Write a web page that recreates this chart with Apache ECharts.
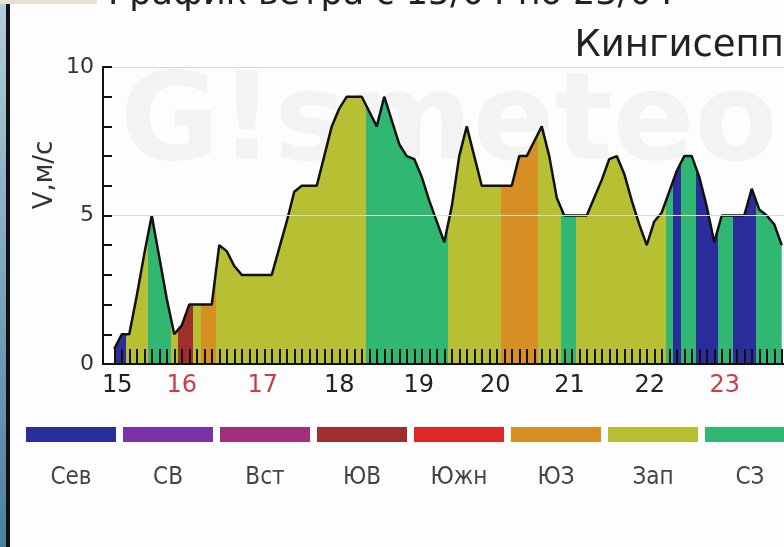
<!DOCTYPE html>
<html>
<head>
<meta charset="utf-8">
<script src="https://cdn.jsdelivr.net/npm/echarts@6/dist/echarts.min.js"></script>
<style>
  html, body { margin: 0; padding: 0; background: #fdfdfd; }
  #main { width: 784px; height: 547px; }
</style>
</head>
<body>
<div id="main"></div>
<script>
// скорость ветра, м/с - одна точка на каждое деление оси
var speed = [
  0.5, 1, 1, 2.3, 3.7, 5, 3.6, 2.2, 1, 1.3,
  2, 2, 2, 2, 4, 3.8, 3.3, 3, 3, 3,
  3, 3, 3.9, 4.8, 5.8, 6, 6, 6, 7, 8,
  8.6, 9, 9, 9, 8.5, 8, 9, 8.2, 7.4, 7,
  6.9, 6.3, 5.5, 4.8, 4.1, 5.3, 7, 8, 7, 6,
  6, 6, 6, 6, 7, 7, 7.5, 8, 7, 5.6,
  5, 5, 5, 5, 5.6, 6.2, 6.9, 7, 6.4, 5.5,
  4.7, 4, 4.8, 5.1, 5.8, 6.5, 7, 7, 6.3, 5.3,
  4.1, 5, 5, 5, 5, 5.9, 5.2, 5, 4.7, 4
]
// направление ветра для каждой точки (индекс в dirNames)
var dirs = [
  0, 0, 6, 6, 6, 7, 7, 7, 6, 3,
  3, 6, 5, 5, 6, 6, 6, 6, 6, 6,
  6, 6, 6, 6, 6, 6, 6, 6, 6, 6,
  6, 6, 6, 6, 7, 7, 7, 7, 7, 7,
  7, 7, 7, 7, 7, 6, 6, 6, 6, 6,
  6, 6, 5, 5, 5, 5, 5, 6, 6, 6,
  7, 7, 6, 6, 6, 6, 6, 6, 6, 6,
  6, 6, 6, 6, 7, 0, 7, 7, 0, 0,
  0, 7, 7, 0, 0, 0, 7, 7, 7, 7
]
var dirNames = ['Сев', 'СВ', 'Вст', 'ЮВ', 'Южн', 'ЮЗ', 'Зап', 'СЗ']
var dirColors = ['#2b2e9a', '#7a33a6', '#a22f7c', '#9e2f2c', '#de2727', '#d68f22', '#b6c032', '#30b872']
// подписи дней на оси x
var dayPos = [0.4, 9, 19.8, 30, 40.6, 50.8, 60.7, 71.4, 81.4]
var dayLabels = ['15', '16', '17', '18', '19', '20', '21', '22', '23']
var dayRed = ['16', '17', '23'] // выходные - красным

var myChart = echarts.init(document.getElementById('main'))
var option

var seriesData = speed.map(function (v, i) { return [i, v] })
var tickValues = speed.map(function (v, i) { return i })

// цветные полосы по направлению
var runs = []
dirs.forEach(function (d, i) {
  var last = runs[runs.length - 1]
  if (last && last.dir === d) {
    last.end = i
  } else {
    runs.push({ dir: d, start: i, end: i })
  }
})
var pieces = runs.map(function (r, k) {
  return {
    gte: k === 0 ? -10 : r.start - 0.5,
    lt: k === runs.length - 1 ? 1000 : r.end + 0.5,
    color: dirColors[r.dir]
  }
})

var font = 'DejaVu Sans'

// легенда снизу + оформление
var graphics = [
  { type: 'rect', z: -10, shape: { x: 0, y: 0, width: 6, height: 547 },
    style: { fill: new echarts.graphic.LinearGradient(0, 0, 0, 1, [
      { offset: 0, color: '#b4cedc' }, { offset: 0.5, color: '#7fa6be' }, { offset: 1, color: '#4b7fa0' }]) } },
  { type: 'rect', z: -10, shape: { x: 0, y: 0, width: 97, height: 4 }, style: { fill: '#e8e1d5' } },
  { type: 'rect', z: -10, shape: { x: 6, y: 4, width: 4, height: 543 }, style: { fill: '#111' } },
  { type: 'text', z: -10, x: 120, y: 128,
    style: { text: 'G!smeteo', font: 'bold 121px ' + font, fill: '#f3f3f3', align: 'left', verticalAlign: 'middle', textAlign: 'left', textVerticalAlign: 'middle' } },
  { type: 'text', x: 108, y: -5,
    style: { text: 'График ветра с 15/04 по 23/04', font: '35px ' + font, fill: '#222', align: 'left', verticalAlign: 'middle', textAlign: 'left', textVerticalAlign: 'middle' } },
  { type: 'text', x: 784, y: 46,
    style: { text: 'Кингисепп', font: '37px ' + font, fill: '#222', align: 'right', verticalAlign: 'middle', textAlign: 'right', textVerticalAlign: 'middle' } },
  { type: 'text', x: 45, y: 175, rotation: Math.PI / 2,
    style: { text: 'V,м/с', font: '26px ' + font, fill: '#333', align: 'center', verticalAlign: 'middle', textAlign: 'center', textVerticalAlign: 'middle' } }
]
dirNames.forEach(function (name, k) {
  graphics.push({ type: 'rect', shape: { x: 26 + k * 97, y: 427, width: 90, height: 15 }, style: { fill: dirColors[k] } })
  graphics.push({ type: 'text', x: 71 + k * 97, y: 478,
    style: { text: name, font: '24px DejaVu Sans Condensed', fill: '#444', align: 'center', verticalAlign: 'middle', textAlign: 'center', textVerticalAlign: 'middle' } })
})

option = {
  backgroundColor: '#fdfdfd',
  animation: false,
  graphic: { elements: graphics },
  grid: {
    left: 103,
    right: 0,
    top: 67,
    bottom: 183
  },
  visualMap: {
    show: false,
    type: 'piecewise',
    dimension: 0,
    seriesIndex: 0,
    pieces: pieces
  },
  xAxis: {
    type: 'value',
    z: 5,
    min: -1.5,
    max: 89.3,
    axisLine: { onZero: false, lineStyle: { color: '#111', width: 2 } },
    axisTick: {
      customValues: tickValues,
      inside: true,
      length: 15,
      lineStyle: { color: '#111', width: 2 }
    },
    axisLabel: {
      customValues: dayPos,
      margin: 10,
      fontSize: 24,
      fontFamily: font,
      color: '#222',
      formatter: function (val) {
        var k = 0
        dayPos.forEach(function (p, j) { if (Math.abs(p - val) < Math.abs(dayPos[k] - val)) k = j })
        var t = dayLabels[k]
        return dayRed.indexOf(t) >= 0 ? '{r|' + t + '}' : t
      },
      rich: {
        r: { color: '#cc3b4a', fontSize: 24, fontFamily: font }
      }
    },
    splitLine: { show: false }
  },
  yAxis: {
    type: 'value',
    z: 5,
    min: 0,
    max: 10,
    interval: 5,
    axisLine: { show: true, onZero: false, lineStyle: { color: '#111', width: 2 } },
    axisTick: { show: true, inside: true, length: 9, lineStyle: { color: '#111', width: 2 } },
    minorTick: { show: true, splitNumber: 5, length: 9, lineStyle: { color: '#111', width: 2 } },
    axisLabel: { margin: 9, fontSize: 22, fontFamily: font, color: '#333' },
    splitLine: { show: true, lineStyle: { color: '#d9d9d9', width: 1 } }
  },
  series: [
    {
      name: 'area',
      type: 'line',
      data: seriesData,
      symbol: 'none',
      lineStyle: { width: 0 },
      areaStyle: { opacity: 1 },
      z: 2
    },
    {
      name: 'line',
      type: 'line',
      data: seriesData,
      symbol: 'none',
      lineStyle: { color: '#111', width: 2.5 },
      z: 3
    }
  ]
}

option && myChart.setOption(option)
</script>
</body>
</html>
